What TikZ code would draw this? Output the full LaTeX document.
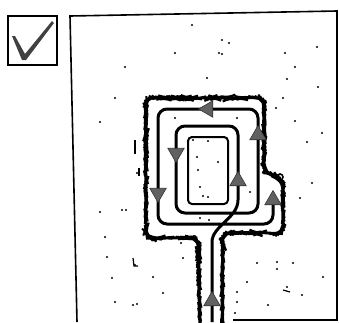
\documentclass[tikz,border=0pt]{standalone}
\usetikzlibrary{arrows.meta,shapes.geometric,decorations.pathmorphing}
\begin{document}
\begin{tikzpicture}[x=1pt,y=-1pt,
 frame/.style={draw,line width=1.6pt},
 wall/.style={draw,line width=2pt,rounded corners=8pt,decorate,
   decoration={random steps,segment length=2pt,amplitude=0.45pt}},
 island/.style={draw,line width=2pt,rounded corners=4pt},
 route/.style={draw,line width=3pt,line join=round},
 tri/.style={regular polygon,regular polygon sides=3,fill=black!62,draw=black!80,
   line width=0.6pt,minimum size=19pt,inner sep=0pt},
 speck/.style={fill=black}]
\pgfmathsetseed{7}
\useasboundingbox (0,0) rectangle (339,322);
% check box
\draw[frame] (8,16) rectangle (57,65);
\fill[black!75,line join=round] (12,36) -- (15,36) -- (25,54) -- (52,21) -- (54,23)
  -- (26,60) -- (22,60) -- cycle;
% map frame
\draw[frame] (77,322) -- (70,16) -- (337,11) -- (337,320) -- (233,320);
% corridor walls
\draw[wall] (200,322) -- (198,238) -- (146,238) -- (146,98) -- (264,98) -- (264,172)
  -- (276,176) -- (283,184) -- (283,233) -- (223,233) -- (222,322);
\draw[line width=1.6pt] (280,177) circle (3pt);
\draw[island] (188,137) rectangle (228,204);
% route
\draw[route] (212,322) -- (212,242) .. controls (212,226) and (238,218) .. (238,200)
  [rounded corners=9pt] -- (238,126) -- (176,126) -- (176,213) -- (258,213)
  -- (258,109) -- (158,109) -- (158,224) -- (273,224) -- (273,196);
% direction marks
\node[tri] (a1) at (212,301) {};
\node[tri] (a2) at (238,181) {};
\node[tri,rotate=180] (a3) at (176,153) {};
\node[tri] (a4) at (258,135) {};
\node[tri,rotate=90] (a5) at (208,109) {};
\node[tri,rotate=180] (a6) at (158,193) {};
\node[tri] (a7) at (273,200) {};
% scan noise
\foreach \x/\y in {192/25,222/40,229/43,175/53,219/53,222/54,285/53,317/47,125/67,
  295/67,207/78,287/79,318/87,115/98,283/98,276/108,100/122,295/121,322/133,307/142,
  137/173,312/183,100/212,122/210,126/210,300/198,105/237,107/257,135/265,183/258,
  153/277,112/278,163/293,115/302,133/305,137/304,257/263,277/262,293/263,277/269,
  287/287,302/295,323/277,268/305,237/302,235/313,233/235,181/243,247/282,237/292,
  197/157,218/162,198/170,200/187,203/196,208/197,193/140,208/141,175/118,237/118,
  200/218,209/220,250/192}
  \fill[speck] (\x,\y) circle (1.2pt);
\draw[line width=1.2pt] (135,140) -- (135,154);
\draw[line width=1.2pt] (139,168) -- (139,176);
\draw[line width=1.2pt] (133,258) -- (134,266) -- (138,266);
\draw[line width=1.2pt] (283,290) -- (290,292);
\end{tikzpicture}
\end{document}
